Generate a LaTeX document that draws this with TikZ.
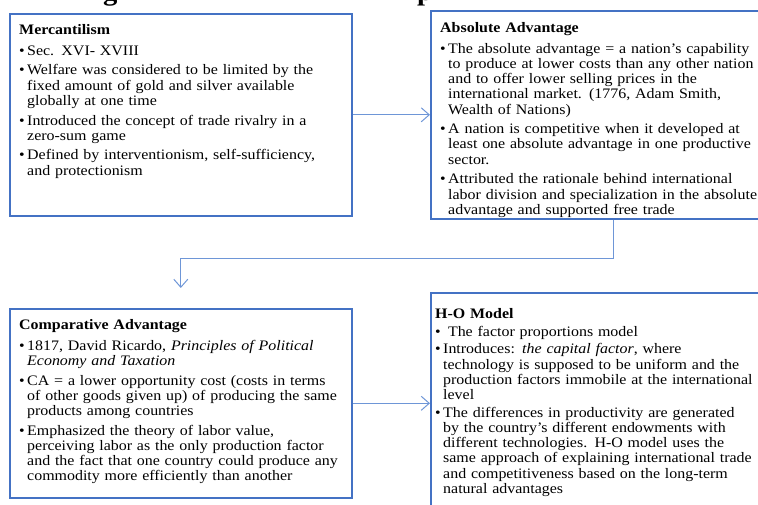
\documentclass[tikz,border=0pt]{standalone}
\usepackage{fontspec}
\setmainfont[FakeStretch=1.1]{Liberation Serif}
\usetikzlibrary{arrows.meta}
\definecolor{boxblue}{RGB}{68,114,196}
\definecolor{arrblue}{RGB}{110,150,215}
\newlength\bw \setlength\bw{8pt}
\newlength\bg \setlength\bg{4.5pt}
\newcommand\hd[2][5.8pt]{\rule{0pt}{10pt}\textbf{#2}\par\vspace{#1}}
\newcommand\bl[1]{\hangindent=\bw\hangafter=1\noindent\makebox[\bw][l]{\textbullet}#1\par\vspace{\bg}}
\begin{document}
\begin{tikzpicture}[x=1pt,y=-1pt,
  box/.style={draw=boxblue,line width=1.6pt,inner sep=0pt,anchor=north west},
  txt/.style={inner sep=0pt,anchor=north west,text width=420pt,align=left,font=\fontsize{14.5}{15.2}\selectfont},
  ttl/.style={inner sep=0pt,anchor=base west,font=\fontsize{26}{26}\selectfont\bfseries},
  arr/.style={draw=arrblue,line width=1pt,-{Straight Barb[length=8pt,width=14pt]}}]
\clip (0,0) rectangle (758,505);
\useasboundingbox (0,0) rectangle (758,505);
% title fragments
\node[ttl] (tg) at (103,0.5) {g};
\node[ttl] (tp) at (417,0.5) {p};
% boxes
\node[box,minimum width=342pt,minimum height=202pt] (merc) at (9,13) {};
\node[box,minimum width=366pt,minimum height=208pt] (abs) at (430,10) {};
\node[box,minimum width=342pt,minimum height=189pt] (comp) at (9,308) {};
\node[box,minimum width=366pt,minimum height=222pt] (ho) at (430,292) {};
% texts
\node[txt] (mercT) at (19,24) {\hd{Mercantilism}
\bl{Sec. XVI- XVIII}
\bl{Welfare was considered to be limited  by the\newline fixed amount of gold and silver  available\newline globally  at one time}
\bl{Introduced the concept of trade rivalry  in a\newline zero-sum game}
\bl{Defined  by interventionism,  self-sufficiency,\newline and protectionism}};
\node[txt] (absT) at (440,22) {\hd{Absolute Advantage}
\bl{The absolute advantage = a nation's capability\newline to produce at lower costs than any other nation\newline and to offer lower  selling  prices in the\newline international  market. (1776, Adam Smith,\newline Wealth  of Nations)}
\bl{A nation is competitive when it developed at\newline least one absolute advantage in one productive\newline sector.}
\bl{Attributed the rationale  behind international\newline labor division and specialization  in the absolute\newline advantage and supported free trade}};
\node[txt] (compT) at (19,319) {\hd{Comparative Advantage}
\bl{1817, David Ricardo, \textit{Principles of Political\newline Economy and Taxation}}
\bl{CA = a lower opportunity cost (costs in terms\newline of other goods given up) of producing the same\newline products among countries}
\bl{Emphasized the theory of labor value,\newline perceiving  labor as the only production factor\newline and the fact that one country could produce any\newline commodity more efficiently  than another}};
\node[txt] (hoT) at (435,308) {\setlength\bg{2.5pt}\hd[2.8pt]{H-O Model}
\bl{\ The factor proportions model}
\bl{Introduces: \textit{the capital factor}, where\newline technology is supposed to be uniform  and the\newline production factors immobile  at the international\newline level}
\bl{The differences in productivity are generated\newline by the country's different  endowments with\newline different  technologies. H-O model uses the\newline same approach of explaining  international  trade\newline and competitiveness based on the long-term\newline natural  advantages}};
% connectors
\draw[arr] (merc.east) -- (abs.west);
\coordinate (c2) at ([yshift=20pt]comp.north);
\draw[arr] (abs.south) -- ++(0,39) -| (c2);
\draw[arr] (comp.east) -- (comp.east -| ho.west);
\end{tikzpicture}
\end{document}
